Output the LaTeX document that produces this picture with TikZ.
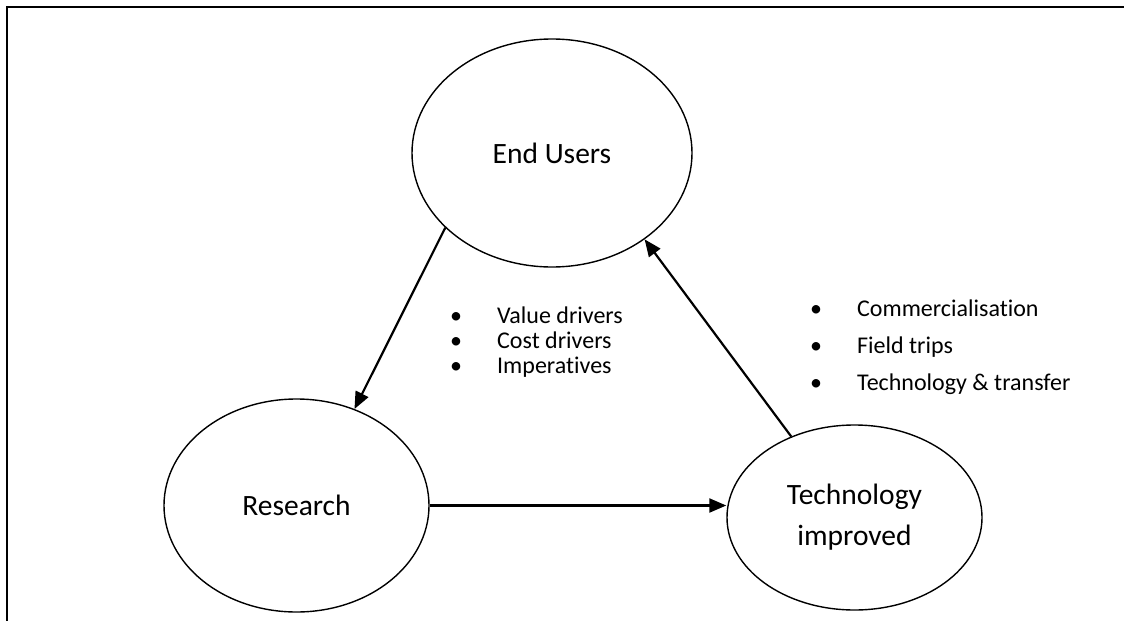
\documentclass[tikz,border=0pt]{standalone}
\usepackage{fontspec}
\setmainfont{Carlito}[Ligatures={NoCommon,NoContextual}]
\usetikzlibrary{shapes.geometric,arrows.meta}
\newcommand{\ovalfont}{\fontsize{29.5}{41}\selectfont}
\newcommand{\listfont}{\fontsize{24}{25}\selectfont}
\newcommand{\listfontwide}{\fontsize{24}{37}\selectfont}
\newcommand{\bul}[1]{\makebox[#1][l]{\textbullet}}
\begin{document}
\begin{tikzpicture}[x=1pt,y=-1pt,
  oval/.style={draw, ellipse, line width=1.4pt, inner sep=0pt, align=center, font=\ovalfont},
  link/.style={line width=2.2pt, -{Triangle[length=17pt,width=14pt]}},
  frameline/.style={line width=2pt}]
\useasboundingbox (0,0) rectangle (1124,621);
% frame: top and left rules
\coordinate (ftl) at (7,7);
\coordinate (ftr) at (1124,7);
\coordinate (fbl) at (7,621);
\draw[frameline] (ftr) -- (ftl) -- (fbl);
% the three ovals
\node[oval, minimum width=280pt, minimum height=228pt] (eu) at (552,153) {End Users};
\node[oval, minimum width=265pt, minimum height=213pt] (re) at (296.5,505.5) {Research};
\node[oval, minimum width=255pt, minimum height=185pt] (te) at (854.5,517.5) {Technology\\improved};
% connectors
\draw[link] (eu.215.4) -- (re.59.9);
\draw[link] (re.east) -- (re.east -| te.west);
\draw[link] (te.128.7) -- (eu.317.2);
% bullet lists
\node[anchor=west, align=left, inner sep=0pt, font=\listfont] (lista) at (450,342)
  {\bul{47pt}Value drivers\\ \bul{47pt}Cost drivers\\ \bul{47pt}Imperatives};
\node[anchor=west, align=left, inner sep=0pt, font=\listfontwide] (listb) at (810,347.5)
  {\bul{47pt}Commercialisation\\ \bul{47pt}Field trips\\ \bul{47pt}Technology \& transfer};
\end{tikzpicture}
\end{document}
